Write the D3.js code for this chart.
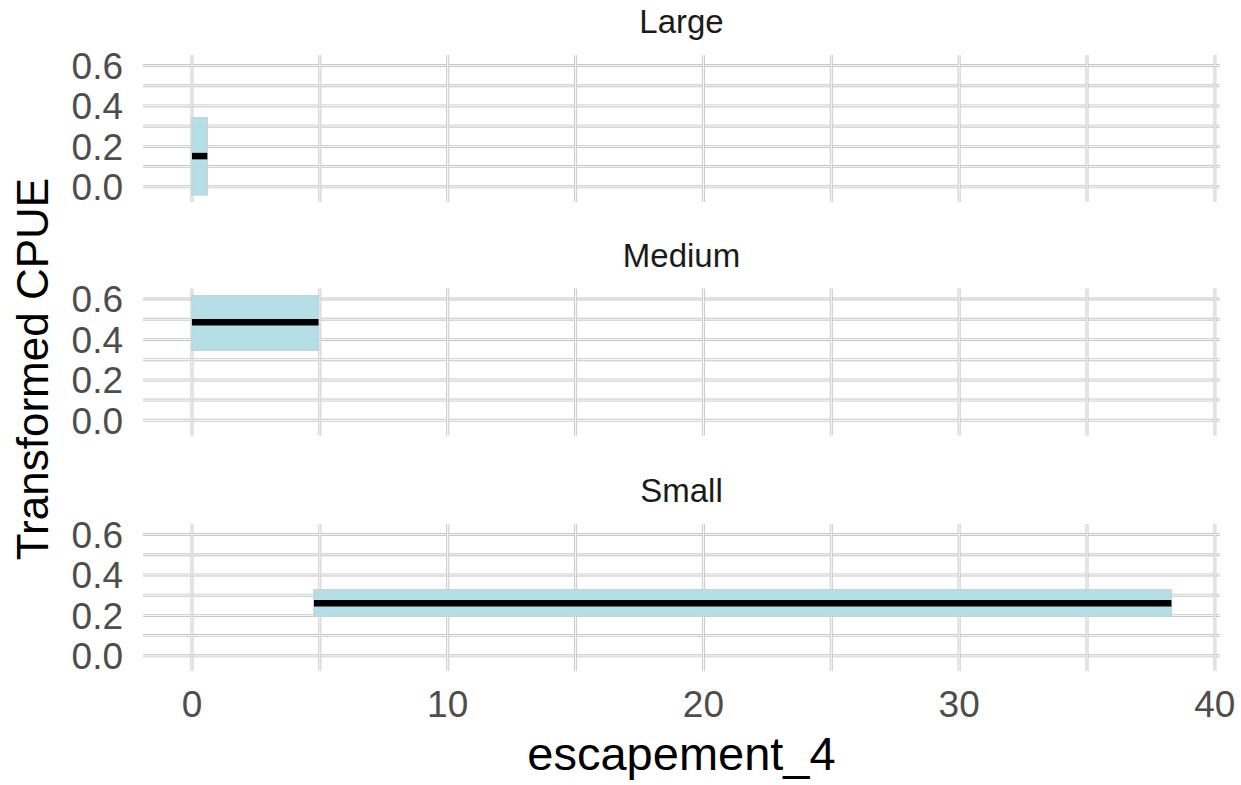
<!DOCTYPE html>
<html>
<head>
<meta charset="utf-8">
<script src="https://cdn.jsdelivr.net/npm/d3@7"></script>
<style>
  body { margin: 0; background: #fff; }
  text { font-family: "Liberation Sans", Arial, sans-serif; }
</style>
</head>
<body>
<div id="plot"></div>
<script>
// facet panels and the fitted effect of escapement_4
const panels = ['Large', 'Medium', 'Small'];
const xStart = [0, 0, 4.77];
const xEnd = [0.6, 4.95, 38.3];
const fitValues = [0.152, 0.485, 0.26];
const lowerValues = [-0.04, 0.347, 0.198];
const upperValues = [0.342, 0.616, 0.327];

const xTicks = [0, 10, 20, 30, 40];
const xGrid = [0, 5, 10, 15, 20, 25, 30, 35, 40];
const yTicks = [0, 0.2, 0.4, 0.6];
const yGrid = [0, 0.1, 0.2, 0.3, 0.4, 0.5, 0.6];

const width = 1241, height = 785;
const panelLeft = 143, panelRight = 1220;
const panelTops = [55, 288.5, 524];
const panelH = 147;

let svg = d3.select("#plot")
    .append("svg")
    .attr("width", width)
    .attr("height", height);

let x = d3.scaleLinear()
    .domain([-1.915, 40.2])
    .range([panelLeft, panelRight]);

const gridLine = (g, x1, y1, x2, y2) => {
    g.append("line")
        .attr("x1", x1).attr("y1", y1).attr("x2", x2).attr("y2", y2)
        .attr("stroke", "#c8c8c8").attr("stroke-width", 3);
    g.append("line")
        .attr("x1", x1).attr("y1", y1).attr("x2", x2).attr("y2", y2)
        .attr("stroke", "#f7f7f7").attr("stroke-width", 1.2);
};

panels.forEach((name, i) => {
    const top = panelTops[i];
    let y = d3.scaleLinear()
        .domain([-0.075, 0.652])
        .range([top + panelH, top]);

    let g = svg.append("g").attr("class", "panel");

    // grid
    yGrid.forEach(v => gridLine(g, panelLeft, y(v), panelRight, y(v)));
    xGrid.forEach(v => gridLine(g, x(v), top, x(v), top + panelH));

    // strip title
    svg.append("text")
        .attr("x", (panelLeft + panelRight) / 2)
        .attr("y", top - 22)
        .attr("text-anchor", "middle")
        .attr("font-size", 33)
        .attr("fill", "#1a1a1a")
        .text(name);

    // y tick labels
    svg.append("g")
        .selectAll("text")
        .data(yTicks)
        .join("text")
        .attr("x", 123)
        .attr("y", d => y(d))
        .attr("dy", "0.36em")
        .attr("text-anchor", "end")
        .attr("font-size", 37)
        .attr("fill", "#4d4d4d")
        .text(d3.format(".1f"));

    // confidence ribbon
    const band = [{ x: xStart[i], lo: lowerValues[i], hi: upperValues[i] },
                  { x: xEnd[i], lo: lowerValues[i], hi: upperValues[i] }];
    g.append("path")
        .datum(band)
        .attr("fill", "#b0dde6")
        .attr("fill-opacity", 0.95)
        .attr("stroke", "#c2d6da")
        .attr("stroke-width", 1.5)
        .attr("d", d3.area()
            .x(d => x(d.x))
            .y0(d => y(d.lo))
            .y1(d => y(d.hi)));

    // fitted line
    g.append("path")
        .datum([{ x: xStart[i], v: fitValues[i] }, { x: xEnd[i], v: fitValues[i] }])
        .attr("fill", "none")
        .attr("stroke", "#000")
        .attr("stroke-width", 6.5)
        .attr("d", d3.line()
            .x(d => x(d.x))
            .y(d => y(d.v)));
});

// x tick labels under the last panel
svg.append("g")
    .selectAll("text")
    .data(xTicks)
    .join("text")
    .attr("x", d => x(d))
    .attr("y", 717)
    .attr("text-anchor", "middle")
    .attr("font-size", 37)
    .attr("fill", "#4d4d4d")
    .text(d => d);

// axis titles
svg.append("text")
    .attr("x", (panelLeft + panelRight) / 2)
    .attr("y", 770)
    .attr("text-anchor", "middle")
    .attr("font-size", 47)
    .attr("fill", "#000")
    .text("escapement_4");

svg.append("text")
    .attr("transform", "translate(48,369) rotate(-90)")
    .attr("text-anchor", "middle")
    .attr("font-size", 44)
    .attr("fill", "#000")
    .text("Transformed CPUE");
</script>
</body>
</html>
